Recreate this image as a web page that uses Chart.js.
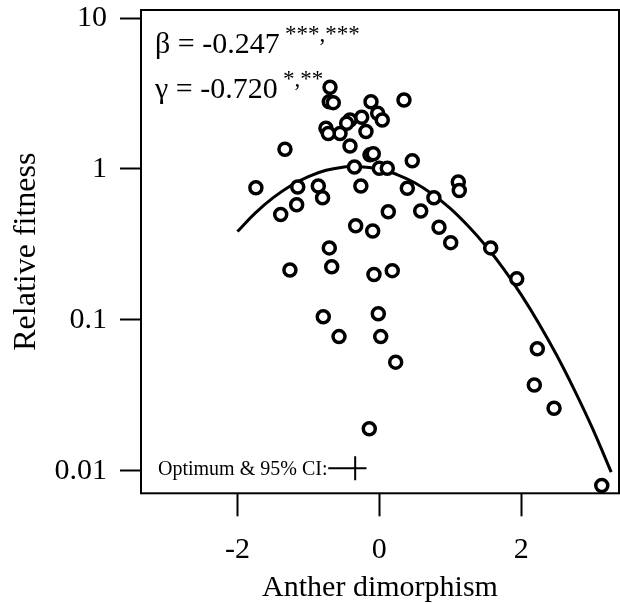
<!DOCTYPE html>
<html>
<head>
<meta charset="utf-8">
<script src="https://cdn.jsdelivr.net/npm/chart.js@4.4.1/dist/chart.umd.min.js"></script>
<style>
  html, body { margin: 0; padding: 0; background: #fff; }
  #wrap { width: 620px; height: 604px; }
</style>
</head>
<body>
<div id="wrap"><canvas id="c" width="620" height="604"></canvas></div>
<script>
// Observed data (anther dimorphism vs relative fitness)
const dimorphism = [-1.74, -1.33, -1.15, -0.86, -0.80, -1.165, -1.39, -0.26, -0.35, 0.395,
  0.77, 1.114, 1.128, 0.127, 0.584, -0.333, -0.093, 0.842, 1.007, -0.705,
  -0.671, -1.26, -0.075, 0.183, -0.79, -0.014, -0.568, 0.02, 0.231, -0.141,
  1.571, 1.938, 2.228, 2.186, 2.464, 3.137, 0.465, -0.131, -0.085, 0.0,
  0.113, -0.413, -0.695, -0.705, -0.649, -0.117, 0.348, -0.023, 0.042, -0.248,
  -0.413, -0.46, -0.188, -0.554, -0.752, -0.719];
const fitness = [0.75, 1.35, 0.76, 0.77, 0.645, 0.58, 0.50, 0.77, 1.03, 0.745,
  0.645, 0.82, 0.72, 0.52, 0.527, 0.42, 0.388, 0.411, 0.325, 0.30,
  0.225, 0.214, 0.20, 0.212, 0.105, 0.11, 0.0775, 0.0775, 0.0525, 0.019,
  0.30, 0.187, 0.0643, 0.0371, 0.026, 0.0080, 1.135, 1.24, 1.26, 1.01,
  1.01, 1.42, 3.48, 2.79, 2.75, 2.79, 2.86, 2.34, 2.11, 2.20,
  2.11, 2.01, 1.77, 1.72, 1.86, 1.72];

// Fitted fitness curve
const curveX = [-2.0, -1.75, -1.5, -1.25, -1.0, -0.75, -0.5, -0.34, 0, 0.25, 0.5, 0.75, 1.0, 1.25, 1.5, 1.75, 2.0, 2.25, 2.5, 2.75, 3.0, 3.27];
const curveY = [0.385, 0.51, 0.643, 0.775, 0.89, 0.98, 1.03, 1.04, 1.0, 0.918, 0.81, 0.68, 0.548, 0.42, 0.31, 0.219, 0.147, 0.0948, 0.0585, 0.0344, 0.0194, 0.0098];

// Optimum & 95% CI
const optimum = -0.34;
const ciLow = -0.72;
const ciHigh = -0.18;
const markerLevel = 0.0104;

// Axes
const xTicks = [-2, 0, 2];
const xTickLabels = ['-2', '0', '2'];
const yTicks = [0.01, 0.1, 1, 10];
const yTickLabels = ['0.01', '0.1', '1', '10'];

const SERIF = "'Liberation Serif', 'Times New Roman', serif";

function noPad(s) {
  s.paddingTop = 0; s.paddingBottom = 0; s.paddingLeft = 0; s.paddingRight = 0;
}

const boxPlugin = {
  id: 'box',
  afterDatasetsDraw(chart) {
    const { ctx, chartArea: a } = chart;
    ctx.save();
    ctx.strokeStyle = '#000';
    ctx.lineWidth = 2;
    ctx.strokeRect(a.left, a.top, a.right - a.left, a.bottom - a.top);
    ctx.restore();
  },
  afterDraw(chart) {
    const { ctx } = chart;
    ctx.save();
    ctx.fillStyle = '#000';
    ctx.textBaseline = 'alphabetic';
    ctx.textAlign = 'left';
    ctx.font = '30px ' + SERIF;
    ctx.fillText('β = -0.247', 155, 53);
    ctx.fillText('γ = -0.720', 155, 98);
    ctx.font = '23px ' + SERIF;
    ctx.fillText('***,***', 285, 41);
    ctx.fillText('*,**', 283, 86);
    ctx.font = '20px ' + SERIF;
    ctx.fillText('Optimum & 95% CI:', 158, 475);
    ctx.restore();
  }
};

new Chart(document.getElementById('c'), {
  type: 'scatter',
  data: {
    datasets: [
      {
        label: 'points',
        data: dimorphism.map((x, i) => ({ x, y: fitness[i] })),
        pointRadius: 6,
        pointHoverRadius: 6,
        pointBorderWidth: 3.5,
        borderColor: '#000',
        backgroundColor: '#fff',
        showLine: false,
        order: 0
      },
      {
        label: 'curve',
        data: curveX.map((x, i) => ({ x, y: curveY[i] })),
        showLine: true,
        borderColor: '#000',
        borderWidth: 3,
        pointRadius: 0,
        tension: 0.4,
        fill: false,
        order: 1
      },
      {
        label: 'ci',
        data: [{ x: ciLow, y: markerLevel }, { x: ciHigh, y: markerLevel }],
        showLine: true,
        borderColor: '#000',
        borderWidth: 2,
        pointRadius: 0,
        order: 2
      },
      {
        label: 'optimum',
        data: [{ x: optimum, y: markerLevel }],
        pointStyle: 'line',
        rotation: 90,
        pointRadius: 12,
        pointBorderWidth: 2,
        borderColor: '#000',
        showLine: false,
        order: 2
      }
    ]
  },
  options: {
    responsive: false,
    animation: false,
    devicePixelRatio: 1,
    layout: { autoPadding: false, padding: { top: 10, right: 1, left: 0, bottom: 0 } },
    plugins: { legend: { display: false }, tooltip: { enabled: false }, title: { display: false } },
    scales: {
      x: {
        type: 'linear',
        min: -3.36,
        max: 3.38,
        afterBuildTicks(s) { s.ticks = xTicks.map(v => ({ value: v })); },
        afterFit(s) { s.height = 110.7; noPad(s); },
        ticks: {
          autoSkip: false,
          maxRotation: 0,
          padding: 16,
          color: '#000',
          font: { family: SERIF, size: 30 },
          callback: (v, i) => xTickLabels[i]
        },
        grid: { drawOnChartArea: false, drawTicks: true, tickLength: 23, tickWidth: 2, tickColor: '#000' },
        border: { display: false },
        title: {
          display: true,
          text: 'Anther dimorphism',
          color: '#000',
          font: { family: SERIF, size: 30, lineHeight: 1 },
          padding: { top: 0, bottom: 1 }
        }
      },
      y: {
        type: 'logarithmic',
        min: 0.0071,
        max: 11.3,
        afterBuildTicks(s) { s.ticks = yTicks.map(v => ({ value: v })); },
        afterFit(s) { s.width = 141; noPad(s); },
        ticks: {
          autoSkip: false,
          padding: 13,
          color: '#000',
          font: { family: SERIF, size: 30 },
          callback: (v, i) => yTickLabels[i]
        },
        grid: { drawOnChartArea: false, drawTicks: true, tickLength: 21, tickWidth: 2, tickColor: '#000' },
        border: { display: false },
        title: {
          display: true,
          text: 'Relative fitness',
          color: '#000',
          font: { family: SERIF, size: 32, lineHeight: 1 },
          padding: { top: 11, bottom: 0 }
        }
      }
    }
  },
  plugins: [boxPlugin]
});
</script>
</body>
</html>
